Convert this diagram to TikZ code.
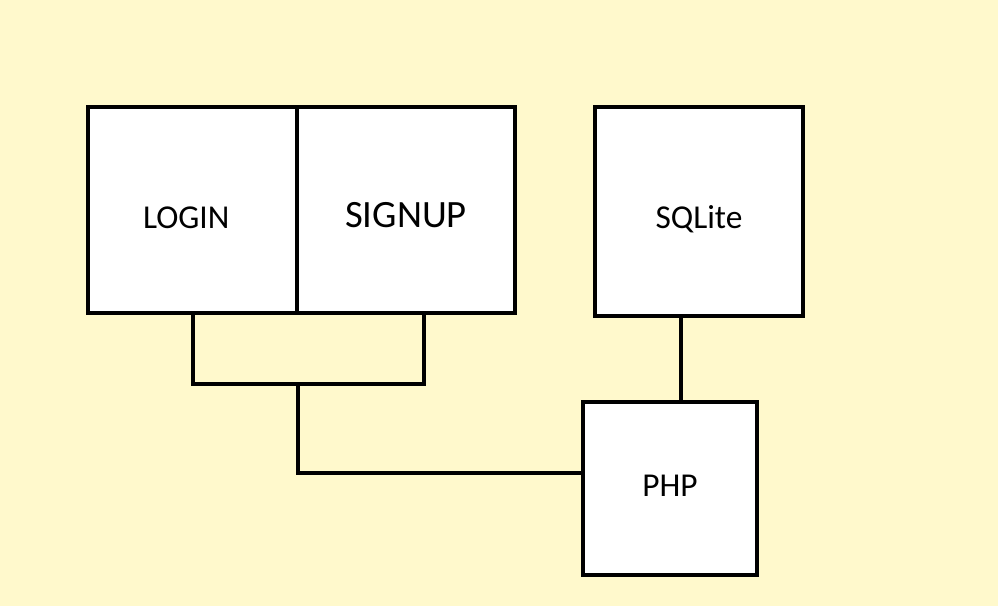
\documentclass[tikz,border=0pt]{standalone}
\usepackage{fontspec}
\setmainfont{Carlito}
\usetikzlibrary{calc,positioning}
\definecolor{paper}{RGB}{255,249,204}

\begin{document}
\begin{tikzpicture}[x=0.02cm, y=-0.02cm, wire/.style={line width=0.08cm, line join=miter}]
\tikzstyle{blk}=[rectangle, draw, line width=0.08cm, fill=white, inner sep=0pt, text depth=0pt, font=\fontsize{19}{22}\selectfont]
\useasboundingbox[fill=paper] (0,0) rectangle (998,606);
\node[blk, minimum width=209*0.02cm, minimum height=206*0.02cm, text height=0.72cm, text width=1.98cm, align=left] (login) at (192.5,210) {LOGIN};
\node[blk, minimum width=218*0.02cm, minimum height=206*0.02cm, text height=0.68cm, font=\fontsize{22}{26}\selectfont] (signup) at (406,210) {SIGNUP};
\node[blk, minimum width=208*0.02cm, minimum height=208.5*0.02cm, text height=0.68cm] (sqlite) at (699,211.3) {SQLite};
\node[blk, minimum width=173.5*0.02cm, minimum height=173*0.02cm, text height=0.32cm] (php) at (670,488.5) {PHP};
\coordinate (jr) at (424,384);
\coordinate (jm) at (298,384);
\coordinate (jb) at (298,473);
\coordinate (jq) at (681,360);
\draw[wire] (login.south) |- (jr) -- (jr |- signup.south);
\draw[wire] (jm) -- (jb) -- (jb -| php.west);
\draw[wire] (jq |- sqlite.south) -- (jq |- php.north);
\end{tikzpicture}
\end{document}
